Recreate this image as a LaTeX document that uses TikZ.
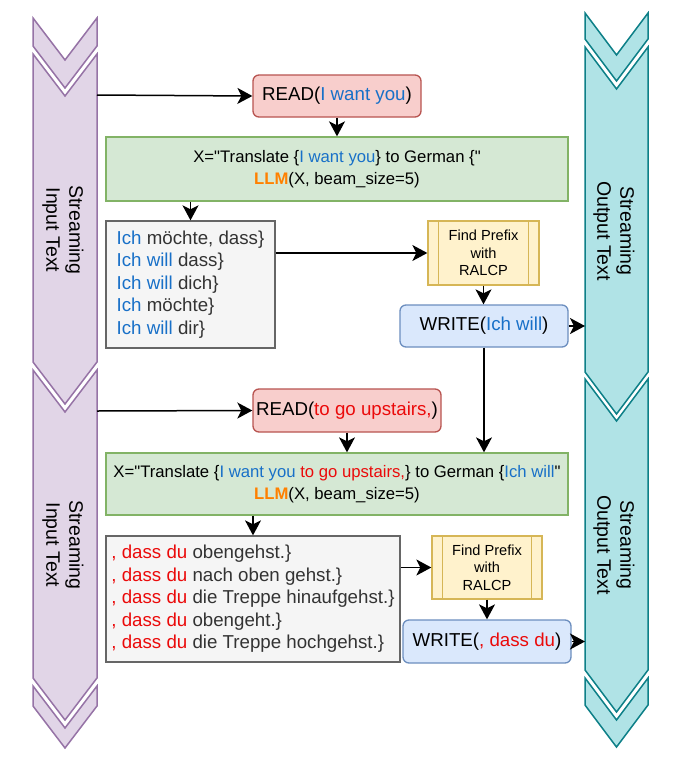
\documentclass[tikz,border=0pt]{standalone}
\usepackage{fontspec}
\setmainfont{Liberation Sans}[Ligatures=TeXOff]
\usetikzlibrary{arrows.meta,calc}
\definecolor{cblue}{RGB}{24,112,200}
\definecolor{cred}{RGB}{235,10,10}
\definecolor{corange}{RGB}{255,128,0}
\definecolor{redfill}{HTML}{F8CECC}\definecolor{redline}{HTML}{B85450}
\definecolor{greenfill}{HTML}{D5E8D4}\definecolor{greenline}{HTML}{82B366}
\definecolor{grayfill}{HTML}{F5F5F5}\definecolor{grayline}{HTML}{666666}
\definecolor{yelfill}{HTML}{FFF2CC}\definecolor{yelline}{HTML}{D6B656}
\definecolor{bluefill}{HTML}{DAE8FC}\definecolor{blueline}{HTML}{6C8EBF}
\definecolor{purfill}{HTML}{E1D5E7}\definecolor{purline}{HTML}{9673A6}
\definecolor{tealfill}{HTML}{B0E3E6}\definecolor{tealline}{HTML}{0E8088}
\definecolor{graytext}{HTML}{333333}
\newcommand\chev[5]{\path[#1] (#2,#4) -- ({(#2+#3)/2},#4+42) -- (#3,#4) -- (#3,#5) -- ({(#2+#3)/2},#5+42) -- (#2,#5) -- cycle;}
\begin{document}
\begin{tikzpicture}[x=1pt,y=-1pt,
  basebox/.style={inner sep=0pt, line width=1.3pt, align=center, font=\fontsize{18.7}{22.5}\selectfont},
  readbox/.style={basebox, draw=redline, fill=redfill, rounded corners=6pt, minimum height=42pt},
  writebox/.style={basebox, draw=blueline, fill=bluefill, rounded corners=6pt, minimum width=168pt, minimum height=42pt},
  llmbox/.style={basebox, draw=greenline, fill=greenfill, minimum width=462pt, font=\fontsize{16.7}{22}\selectfont},
  candbox/.style={basebox, draw=grayline, fill=grayfill, align=left, text=graytext},
  procbox/.style={basebox, draw=yelline, fill=yelfill, minimum width=111pt, minimum height=64pt, font=\fontsize{14.6}{17.5}\selectfont},
  purcol/.style={fill=purfill, draw=purline, line width=1.5pt},
  tealcol/.style={fill=tealfill, draw=tealline, line width=1.5pt},
  coltext/.style={rotate=-90, align=center, font=\fontsize{19.5}{23}\selectfont},
  arr/.style={line width=1.5pt, -{Stealth[length=15pt,width=16pt,inset=4pt]}}
]
\useasboundingbox (0,0) rectangle (676,763);
\fill[white] (0,0) rectangle (676,763);
% streaming input column
\chev{purcol}{33}{97}{18}{46}
\chev{purcol}{33}{97}{54}{362}
\chev{purcol}{33}{97}{370}{678}
\chev{purcol}{33}{97}{686}{706}
\node[coltext] (in1lab) at (63,230) {Streaming\\Input Text};
\node[coltext] (in2lab) at (63,545) {Streaming\\Input Text};
% streaming output column
\chev{tealcol}{585}{648}{13}{39}
\chev{tealcol}{585}{648}{47}{372}
\chev{tealcol}{585}{648}{379}{670}
\chev{tealcol}{585}{648}{678}{705}
\node[coltext] (out1lab) at (614,231) {Streaming\\Output Text};
\node[coltext] (out2lab) at (614,545) {Streaming\\Output Text};
\coordinate (in1) at (97,95);
\coordinate (in2) at (97,411);
\coordinate (out1) at (585,326);
\coordinate (out2) at (585,641.5);
% first step
\node[readbox, minimum width=168pt] (read1) at (337,96) {READ(\textcolor{cblue}{I want you})};
\node[llmbox, minimum height=64pt] (llm1) at (337,169) {X="Translate \{\textcolor{cblue}{I want you}\} to German \{"\\\textcolor{corange}{\textbf{LLM}}(X, beam\_size=5)};
\node[candbox, minimum width=169pt, minimum height=127pt] (cand1) at (190.5,284.5) {\textcolor{cblue}{Ich} möchte, dass\}\\\textcolor{cblue}{Ich will} dass\}\\\textcolor{cblue}{Ich will} dich\}\\\textcolor{cblue}{Ich} möchte\}\\\textcolor{cblue}{Ich will} dir\}};
\node[procbox] (pre1) at (483.5,253) {Find Prefix\\with\\RALCP};
\draw[yelline, line width=1.3pt] ($(pre1.north west)+(11,0)$) -- ($(pre1.south west)+(11,0)$);
\draw[yelline, line width=1.3pt] ($(pre1.north east)+(-11,0)$) -- ($(pre1.south east)+(-11,0)$);
\node[writebox] (write1) at (484,326) {WRITE(\textcolor{cblue}{Ich will})};
% second step
\node[readbox, minimum width=188pt, minimum height=43pt] (read2) at (347,410.5) {READ(\textcolor{cred}{to go upstairs,})};
\node[llmbox, minimum height=62pt] (llm2) at (337,484) {X="Translate \{\textcolor{cblue}{I want you} \textcolor{cred}{to go upstairs,}\} to German \{\textcolor{cblue}{Ich will}"\\\textcolor{corange}{\textbf{LLM}}(X, beam\_size=5)};
\node[candbox, minimum width=294pt, minimum height=126pt] (cand2) at (253,599) {\textcolor{cred}{, dass du} obengehst.\}\\\textcolor{cred}{, dass du} nach oben gehst.\}\\\textcolor{cred}{, dass du} die Treppe hinaufgehst.\}\\\textcolor{cred}{, dass du} obengeht.\}\\\textcolor{cred}{, dass du} die Treppe hochgehst.\}};
\node[procbox, minimum width=110pt, minimum height=63pt] (pre2) at (487,567.5) {Find Prefix\\with\\RALCP};
\draw[yelline, line width=1.3pt] ($(pre2.north west)+(11,0)$) -- ($(pre2.south west)+(11,0)$);
\draw[yelline, line width=1.3pt] ($(pre2.north east)+(-11,0)$) -- ($(pre2.south east)+(-11,0)$);
\node[writebox, minimum height=43pt] (write2) at (487,641.5) {WRITE(\textcolor{cred}{, dass du})};
% connectors
\draw[arr] (in1) -- (read1.west);
\draw[arr] (read1.south) -- (llm1.north -| read1.south);
\draw[arr] (cand1.north |- llm1.south) -- (cand1.north);
\draw[arr] (cand1.east |- pre1.west) -- (pre1.west);
\draw[arr] (pre1.south) -- (write1.north -| pre1.south);
\draw[arr] (write1.east) -- (out1);
\draw[arr] (write1.south) -- (llm2.north -| write1.south);
\draw[arr] (in2) -- (read2.west);
\draw[arr] (read2.south) -- (llm2.north -| read2.south);
\draw[arr] (cand2.north |- llm2.south) -- (cand2.north);
\draw[arr] (cand2.east |- pre2.west) -- (pre2.west);
\draw[arr] (pre2.south) -- (write2.north -| pre2.south);
\draw[arr] (write2.east) -- (out2);
\end{tikzpicture}
\end{document}
